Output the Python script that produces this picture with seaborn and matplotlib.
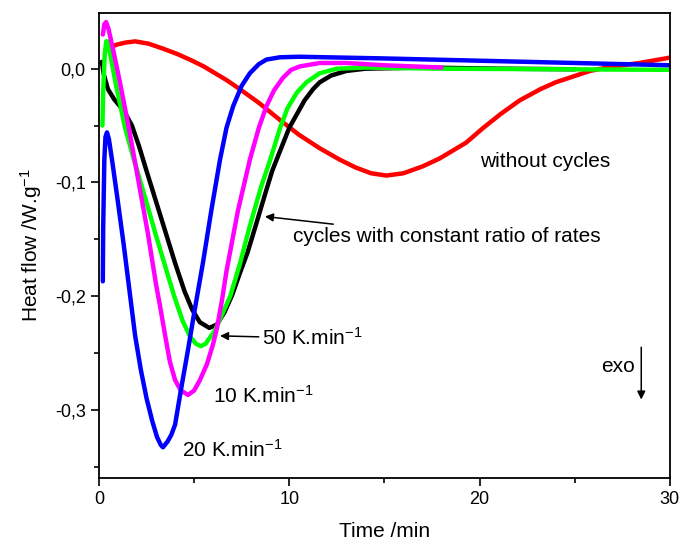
import pandas as pd
import matplotlib
matplotlib.use("Agg")
import matplotlib.pyplot as plt
from matplotlib.ticker import FuncFormatter, MultipleLocator
import seaborn as sns

# ==========================================
# 1) Data (read off the DSC curves)
# ==========================================
# without cycles
t_red = [0.55, 0.9, 1.4, 1.9, 2.6, 3.3, 4.1, 4.9, 5.5, 6.0, 6.7, 7.4, 8.4, 9.5,
         10.5, 11.6, 12.65, 13.5, 14.3, 15.1, 16.0, 17.0, 17.9, 19.3, 20.2,
         21.1, 22.1, 23.2, 24.0, 24.9, 25.8, 26.7, 28.4, 30.0]
hf_red = [0.018, 0.021, 0.023, 0.024, 0.022, 0.018, 0.013, 0.007, 0.002, -0.003,
          -0.010, -0.018, -0.030, -0.045, -0.058, -0.070, -0.080, -0.087, -0.092,
          -0.094, -0.092, -0.086, -0.079, -0.065, -0.052, -0.040, -0.028, -0.018,
          -0.012, -0.007, -0.002, 0.001, 0.005, 0.0097]

# cycles with constant ratio of rates
t_black = [0.15, 0.25, 0.47, 0.8, 1.1, 1.4, 1.73, 2.1, 2.5, 3.0, 3.5, 4.0, 4.5,
           4.9, 5.3, 5.8, 6.2, 6.6, 7.0, 7.4, 7.8, 8.2, 8.7, 9.1, 9.5, 10.0,
           10.4, 10.8, 11.25, 11.6, 12.2, 13.0, 14.0, 17.0, 21.0, 25.0]
hf_black = [0.006, -0.005, -0.018, -0.027, -0.033, -0.040, -0.050, -0.068, -0.090,
            -0.117, -0.144, -0.171, -0.196, -0.212, -0.223, -0.228, -0.225, -0.214,
            -0.199, -0.180, -0.162, -0.140, -0.112, -0.090, -0.073, -0.052, -0.040,
            -0.028, -0.018, -0.012, -0.006, -0.002, 0.000, 0.001, 0.000, -0.0005]

# 50 K/min
t_green = [0.18, 0.22, 0.3, 0.38, 0.45, 0.6, 0.9, 1.37, 1.8, 2.4, 3.0, 3.5, 3.95,
           4.4, 4.8, 5.1, 5.35, 5.6, 6.1, 6.5, 6.9, 7.4, 7.9, 8.5, 9.0, 9.5, 9.9,
           10.4, 10.9, 11.6, 12.5, 14.0, 18.0, 24.0, 30.0]
hf_green = [-0.050, -0.020, 0.012, 0.024, 0.024, 0.012, -0.015, -0.052, -0.078,
            -0.112, -0.147, -0.175, -0.200, -0.222, -0.236, -0.242, -0.244, -0.242,
            -0.230, -0.215, -0.200, -0.172, -0.140, -0.105, -0.080, -0.053, -0.035,
            -0.021, -0.012, -0.004, 0.000, 0.001, 0.000, -0.0005, -0.001]

# 10 K/min
t_mag = [0.2, 0.28, 0.37, 0.5, 0.8, 1.1, 1.52, 2.0, 2.57, 3.0, 3.2, 3.5, 3.73,
         4.0, 4.3, 4.68, 5.0, 5.3, 5.67, 6.0, 6.2, 6.46, 6.7, 7.3, 7.93, 8.4,
         8.8, 9.2, 9.67, 10.1, 10.56, 11.6, 13.0, 15.0, 18.0]
hf_mag = [0.030, 0.039, 0.041, 0.035, 0.012, -0.012, -0.048, -0.092, -0.145,
          -0.190, -0.208, -0.237, -0.258, -0.274, -0.283, -0.287, -0.283, -0.274,
          -0.260, -0.242, -0.228, -0.204, -0.178, -0.125, -0.080, -0.052, -0.033,
          -0.019, -0.008, -0.001, 0.002, 0.005, 0.005, 0.003, 0.001]

# 20 K/min
t_blue = [0.2, 0.22, 0.28, 0.34, 0.42, 0.52, 0.7, 1.0, 1.3, 1.6, 1.9, 2.2, 2.5,
          2.8, 3.05, 3.25, 3.36, 3.6, 3.8, 4.0, 4.3, 4.68, 5.0, 5.47, 5.9, 6.36,
          6.7, 7.05, 7.5, 7.93, 8.4, 8.8, 9.5, 10.5, 12.0, 15.0, 20.0, 25.0, 30.0]
hf_blue = [-0.187, -0.140, -0.080, -0.060, -0.056, -0.062, -0.082, -0.118, -0.155,
           -0.195, -0.235, -0.265, -0.290, -0.310, -0.324, -0.331, -0.333, -0.328,
           -0.322, -0.313, -0.283, -0.247, -0.215, -0.170, -0.125, -0.080, -0.052,
           -0.033, -0.015, -0.004, 0.004, 0.008, 0.010, 0.0105, 0.010, 0.009,
           0.007, 0.005, 0.003]

curve_names = ["without cycles", "constant ratio", "50 K/min", "10 K/min", "20 K/min"]
curve_colors = ["#ff0000", "#000000", "#00ff00", "#ff00ff", "#0000ff"]
times = [t_red, t_black, t_green, t_mag, t_blue]
flows = [hf_red, hf_black, hf_green, hf_mag, hf_blue]

df = pd.concat(
    [pd.DataFrame({"time": t, "hf": h, "curve": n}) for t, h, n in zip(times, flows, curve_names)],
    ignore_index=True)

# ==========================================
# 2) Plot
# ==========================================
sns.set_style("white")
plt.rcParams["font.family"] = ["Liberation Sans", "DejaVu Sans"]
plt.rcParams["mathtext.fontset"] = "custom"
plt.rcParams["mathtext.rm"] = "Liberation Sans"
plt.rcParams["mathtext.it"] = "Liberation Sans"
plt.rcParams["text.color"] = "black"
plt.rcParams["axes.labelcolor"] = "black"
plt.rcParams["xtick.color"] = "black"
plt.rcParams["ytick.color"] = "black"

fig = plt.figure(figsize=(6.8, 5.4), dpi=100)
ax = fig.add_axes([0.1456, 0.1148, 0.8394, 0.8612])

sns.lineplot(data=df, x="time", y="hf", hue="curve", hue_order=curve_names,
             palette=curve_colors, sort=False, estimator=None, legend=False,
             lw=3.2, ax=ax)

ax.set_xlim(0, 30)
ax.set_ylim(-0.36, 0.049)
ax.xaxis.set_major_locator(MultipleLocator(10))
ax.xaxis.set_minor_locator(MultipleLocator(5))
ax.yaxis.set_major_locator(MultipleLocator(0.1))
ax.yaxis.set_minor_locator(MultipleLocator(0.05))
ax.yaxis.set_major_formatter(FuncFormatter(
    lambda v, p: ("%.1f" % (0.0 if abs(v) < 1e-9 else v)).replace(".", ",")))
ax.tick_params(which="major", direction="out", length=6, width=1.2,
               labelsize=13, left=True, bottom=True, top=False, right=False)
ax.tick_params(which="minor", direction="out", length=3.5, width=1.2,
               left=True, bottom=True, top=False, right=False)
for s in ax.spines.values():
    s.set_linewidth(1.3)
    s.set_color("black")

ax.set_xlabel("Time /min", fontsize=15, labelpad=10)
ax.set_ylabel("Heat flow /W.g$^{-1}$", fontsize=15, labelpad=8)

# annotations
arrow = dict(arrowstyle="-|>", color="black", lw=1.1, mutation_scale=12, shrinkA=0, shrinkB=0)
ax.text(20.0, -0.082, "without cycles", fontsize=15, va="center")
ax.annotate("cycles with constant ratio of rates", xy=(8.72, -0.130), xytext=(10.2, -0.148),
            fontsize=15, va="center", arrowprops=arrow)
ax.annotate("50 K.min$^{-1}$", xy=(6.36, -0.235), xytext=(8.57, -0.237),
            fontsize=15, va="center", arrowprops=arrow)
ax.text(6.0, -0.288, "10 K.min$^{-1}$", fontsize=15, va="center")
ax.text(4.36, -0.335, "20 K.min$^{-1}$", fontsize=15, va="center")
ax.text(26.4, -0.262, "exo", fontsize=15, va="center")
ax.annotate("", xy=(28.5, -0.291), xytext=(28.5, -0.245), arrowprops=arrow)

plt.savefig("out.png", dpi=100)
